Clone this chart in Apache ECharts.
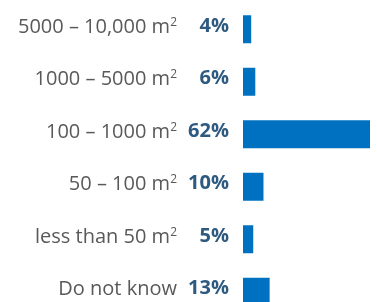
<!DOCTYPE html>
<html>
<head>
<meta charset="utf-8">
<script src="https://cdn.jsdelivr.net/npm/echarts@6/dist/echarts.min.js"></script>
<style>
  html, body { margin: 0; padding: 0; background: #fff; }
  #chart { width: 377px; height: 302px; }
</style>
</head>
<body>
<div id="chart"></div>
<script>
var categories = ['5000 – 10,000 m', '1000 – 5000 m', '100 – 1000 m', '50 – 100 m', 'less than 50 m', 'Do not know'];
var hasSup = [true, true, true, true, true, false];
var shares = [4, 6, 62, 10, 5, 13];

var chart = echarts.init(document.getElementById('chart'));

var option = {
  animation: false,
  grid: { left: 243, right: 7, top: 3, height: 315, outerBoundsMode: 'none' },
  xAxis: {
    type: 'value', min: 0, max: 62,
    show: false
  },
  yAxis: {
    type: 'category',
    inverse: true,
    data: categories,
    axisLine: { show: false },
    axisTick: { show: false },
    axisLabel: {
      margin: 66,
      padding: [0, 0, 4, 0],
      formatter: function (val, idx) {
        return hasSup[idx] ? '{cat|' + val + '}{sup|2}' : '{cat|' + val + '}';
      },
      rich: {
        cat: { fontFamily: 'Open Sans', fontSize: 20, color: '#595959' },
        sup: { fontFamily: 'Open Sans', fontSize: 12, color: '#595959', verticalAlign: 'top', padding: [0, 0, 10, 0] }
      }
    }
  },
  series: [{
    type: 'bar',
    data: shares,
    barWidth: 28,
    itemStyle: { color: '#0070C0' },
    label: {
      show: true,
      position: 'left',
      distance: 14,
      offset: [0, -3],
      formatter: '{c}%',
      fontFamily: 'Open Sans',
      fontWeight: 'bold',
      fontSize: 20,
      color: '#2E5A80'
    }
  }]
};

chart.setOption(option);
</script>
</body>
</html>
